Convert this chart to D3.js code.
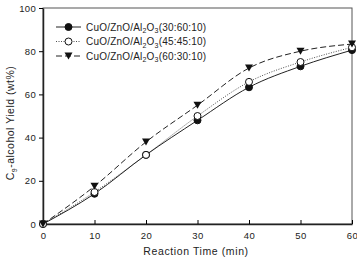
<!DOCTYPE html>
<html>
<head>
<meta charset="utf-8">
<script src="https://cdn.jsdelivr.net/npm/d3@7"></script>
<style>
  body { margin: 0; background: #fff; }
  text { font-family: "Liberation Sans", Arial, sans-serif; fill: #222; }
</style>
</head>
<body>
<div id="container"></div>
<script>
var times = [0, 10, 20, 30, 40, 50, 60],
    labels = ['30:60:10', '45:45:10', '60:30:10'],
    yield1 = [0, 14, 32, 48, 63.3, 73, 80.5],
    yield2 = [0, 14.8, 32, 50, 65.8, 75, 81.8],
    yield3 = [0, 17.5, 38, 55, 72.2, 80, 83.3],
    xTicks = [0, 10, 20, 30, 40, 50, 60],
    yTicks = [0, 20, 40, 60, 80, 100];

var width = 357, height = 258,
    margin = {left: 43, right: 5, top: 8, bottom: 34},
    series, svg, x, y, line, g;

series = [
  {label: labels[0], values: yield1, dash: null, marker: 'filled'},
  {label: labels[1], values: yield2, dash: '1,1.5', marker: 'open'},
  {label: labels[2], values: yield3, dash: '6,3', marker: 'tri'}
];

svg = d3.select('#container').append('svg')
  .attr('width', width)
  .attr('height', height);

x = d3.scaleLinear().domain([0, 60]).range([margin.left, width - margin.right]);
y = d3.scaleLinear().domain([0, 100]).range([height - margin.bottom, margin.top]);

// frame
svg.append('rect')
  .attr('x', x(0)).attr('y', y(100))
  .attr('width', x(60) - x(0)).attr('height', y(0) - y(100))
  .attr('fill', 'none').attr('stroke', '#555').attr('stroke-width', 1);

// axes
g = svg.append('g').attr('transform', 'translate(0,' + y(0) + ')')
  .call(d3.axisBottom(x).tickValues(xTicks).tickSizeInner(-4).tickSizeOuter(0).tickPadding(8));
g.select('.domain').attr('stroke', '#222').attr('stroke-width', 1.5);
g.selectAll('text').attr('font-size', 9.5).attr('letter-spacing', 0.4).style('fill', '#222');

g = svg.append('g').attr('transform', 'translate(' + x(0) + ',0)')
  .call(d3.axisLeft(y).tickValues(yTicks).tickSize(4).tickSizeOuter(0).tickPadding(3));
g.select('.domain').attr('stroke', '#222').attr('stroke-width', 1.5);
g.selectAll('text').attr('font-size', 9.5).attr('letter-spacing', 0.3).style('fill', '#222');

// axis titles
svg.append('text')
  .attr('x', 196).attr('y', 255)
  .attr('text-anchor', 'middle').attr('font-size', 10.5)
  .attr('letter-spacing', 0.6)
  .text('Reaction Time (min)');

var yt = svg.append('text')
  .attr('transform', 'translate(14,123) rotate(-90)')
  .attr('text-anchor', 'middle').attr('font-size', 10.5)
  .attr('letter-spacing', 0.5);
yt.append('tspan').text('C');
yt.append('tspan').attr('font-size', 7).attr('dy', 3).text('9');
yt.append('tspan').attr('dy', -3).text('-alcohol Yield (wt%)');

line = d3.line()
  .x(function (d, i) { return x(times[i]); })
  .y(function (d) { return y(d); })
  .curve(d3.curveMonotoneX);

function drawMarker(sel, type) {
  if (type === 'tri') {
    sel.append('path')
      .attr('d', 'M-4,-3.5L4,-3.5L0,3.5Z')
      .attr('fill', '#111');
  } else {
    sel.append('circle')
      .attr('r', 3.5)
      .attr('fill', type === 'filled' ? '#111' : '#fff')
      .attr('stroke', '#111').attr('stroke-width', 1);
  }
}

series.forEach(function (s) {
  svg.append('path')
    .attr('d', line(s.values))
    .attr('fill', 'none')
    .attr('stroke', '#222')
    .attr('stroke-width', s.dash === '1,1.5' ? 0.8 : 1)
    .attr('stroke-dasharray', s.dash);
});

series.forEach(function (s) {
  svg.selectAll(null)
    .data(s.values)
    .enter()
    .append('g')
    .attr('transform', function (d, i) { return 'translate(' + x(times[i]) + ',' + y(d) + ')'; })
    .each(function () { drawMarker(d3.select(this), s.marker); });
});

// legend
series.forEach(function (s, i) {
  var ly = 27 + i * 14.5,
      lg = svg.append('g').attr('transform', 'translate(56,' + ly + ')');
  lg.append('line')
    .attr('x1', 0).attr('x2', 25).attr('y1', 0).attr('y2', 0)
    .attr('stroke', '#222')
    .attr('stroke-width', s.dash === '1,1.5' ? 0.8 : 1)
    .attr('stroke-dasharray', s.dash);
  drawMarker(lg.append('g').attr('transform', 'translate(12.5,0)'), s.marker);
  var t = lg.append('text').attr('x', 30).attr('y', 3.5).attr('font-size', 10)
    .attr('letter-spacing', 0.2);
  t.append('tspan').text('CuO/ZnO/Al');
  t.append('tspan').attr('font-size', 7).attr('dy', 2.5).text('2');
  t.append('tspan').attr('dy', -2.5).text('O');
  t.append('tspan').attr('font-size', 7).attr('dy', 2.5).text('3');
  t.append('tspan').attr('dy', -2.5).text('(' + s.label + ')');
});
</script>
</body>
</html>
